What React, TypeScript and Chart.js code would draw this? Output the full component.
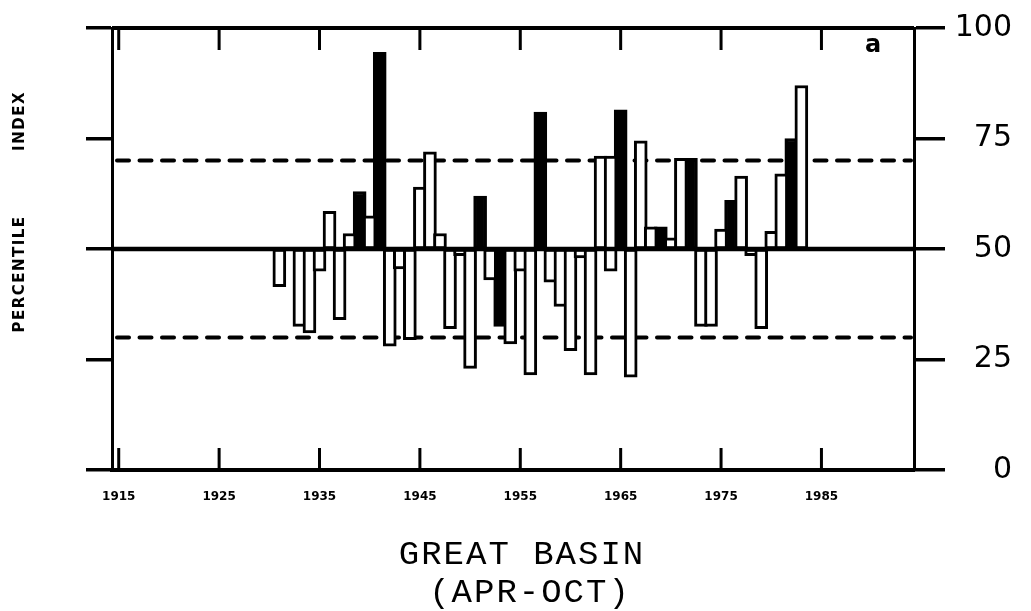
import React, { useEffect, useRef } from "react";
import { Chart, registerables } from "chart.js";

Chart.register(...registerables);

// Great Basin percentile index, April–October, one bar per year
const years = [
  1931, 1932, 1933, 1934, 1935, 1936, 1937, 1938, 1939, 1940,
  1941, 1942, 1943, 1944, 1945, 1946, 1947, 1948, 1949, 1950,
  1951, 1952, 1953, 1954, 1955, 1956, 1957, 1958, 1959, 1960,
  1961, 1962, 1963, 1964, 1965, 1966, 1967, 1968, 1969, 1970,
  1971, 1972, 1973, 1974, 1975, 1976, 1977, 1978, 1979, 1980,
  1981, 1982, 1983,
];
const percentile: (number | null)[] = [
  41.5, null, 32.5, 31, 45, 58.5, 34, 53.5, 63, 57.5,
  94.5, 28, 45.5, 29.5, 64, 72, 53.5, 32, 48.5, 23,
  62, 43, 32.5, 28.5, 45, 21.5, 81, 42.5, 37, 27,
  48, 21.5, 71, 71, 81.5, 21, 74.5, 55, 55, 52.5,
  70.5, 70.5, 32.5, 32.5, 54.5, 61, 66.5, 48.5, 32, 54,
  67, 75, 87,
];
// years drawn as solid black bars
const shadedYears = [1939, 1941, 1951, 1953, 1957, 1965, 1969, 1972, 1976, 1982];
// lower end of a bar when it does not start at the median
const barFloor: Record<number, number> = { 1964: 45 };

const decadeTicks = [1915, 1925, 1935, 1945, 1955, 1965, 1975, 1985];
const percentTicks = [0, 25, 50, 75, 100];
const bandLevels = [30, 70];
const medianLevel = 50;
const yearRange = [1914.33, 1994.22];

const titleLines = ["GREAT BASIN", "(APR-OCT)"];
const yTitleWords = ["PERCENTILE", "INDEX"];
const panelTag = "a";

function barsFor(solid: boolean) {
  const pts: { x: number; y: [number, number] }[] = [];
  years.forEach((yr, i) => {
    const v = percentile[i];
    if (v == null) return;
    if (shadedYears.includes(yr) !== solid) return;
    const lo = barFloor[yr] ?? medianLevel;
    pts.push({ x: yr, y: [lo, v] });
  });
  return pts;
}

const decorations = {
  id: "decorations",
  beforeDatasetsDraw(chart: any) {
    const { ctx, chartArea, scales } = chart;
    ctx.save();
    ctx.strokeStyle = "#000";
    ctx.lineWidth = 4;
    ctx.lineCap = "round";
    ctx.setLineDash([12, 10.5]);
    bandLevels.forEach((v) => {
      const y = scales.y.getPixelForValue(v);
      ctx.beginPath();
      ctx.moveTo(chartArea.left + 5, y);
      ctx.lineTo(chartArea.right - 3, y);
      ctx.stroke();
    });
    ctx.restore();
  },
  afterDatasetsDraw(chart: any) {
    const { ctx, chartArea, scales } = chart;
    ctx.save();
    ctx.strokeStyle = "#000";
    ctx.lineCap = "butt";
    // median line
    const ym = scales.y.getPixelForValue(medianLevel);
    ctx.lineWidth = 4.5;
    ctx.beginPath();
    ctx.moveTo(chartArea.left, ym);
    ctx.lineTo(chartArea.right, ym);
    ctx.stroke();
    // top frame line
    const yt = scales.y.getPixelForValue(100);
    ctx.lineWidth = 4;
    ctx.beginPath();
    ctx.moveTo(chartArea.left, yt);
    ctx.lineTo(chartArea.right, yt);
    ctx.stroke();
    // inward decade ticks on top and bottom edges
    ctx.lineWidth = 3;
    decadeTicks.forEach((yr) => {
      const x = scales.x.getPixelForValue(yr);
      ctx.beginPath();
      ctx.moveTo(x, chartArea.bottom);
      ctx.lineTo(x, chartArea.bottom - 22);
      ctx.moveTo(x, chartArea.top);
      ctx.lineTo(x, chartArea.top + 22);
      ctx.stroke();
    });
    ctx.restore();
  },
  afterDraw(chart: any) {
    const { ctx } = chart;
    ctx.save();
    ctx.fillStyle = "#000";
    // panel tag
    ctx.font = 'bold 24px "DejaVu Sans"';
    ctx.textAlign = "center";
    ctx.textBaseline = "middle";
    ctx.fillText(panelTag, 873, 46);
    // vertical axis title
    ctx.font = 'bold 15px "DejaVu Sans"';
    (ctx as any).letterSpacing = "1.5px";
    const wordCenters = [274, 121];
    yTitleWords.forEach((w, i) => {
      ctx.save();
      ctx.translate(20, wordCenters[i]);
      ctx.rotate(-Math.PI / 2);
      ctx.fillText(w, 0, 0);
      ctx.restore();
    });
    // title below the chart
    ctx.font = '34px "Liberation Mono"';
    (ctx as any).letterSpacing = "2px";
    ctx.fillText(titleLines[0], 522, 555);
    ctx.fillText(titleLines[1], 530, 593);
    (ctx as any).letterSpacing = "0px";
    ctx.restore();
  },
};

export default function App() {
  const canvasRef = useRef<HTMLCanvasElement | null>(null);

  useEffect(() => {
    const canvas = canvasRef.current;
    if (!canvas) return;
    const barStyle = {
      borderColor: "#000",
      borderWidth: 3,
      borderSkipped: false,
      grouped: false,
      barThickness: 13,
    };
    const chart = new Chart(canvas, {
      type: "bar",
      data: {
        datasets: [
          { label: "open", data: barsFor(false), backgroundColor: "#fff", ...barStyle } as any,
          { label: "shaded", data: barsFor(true), backgroundColor: "#000", ...barStyle } as any,
        ],
      },
      options: {
        responsive: false,
        animation: false,
        events: [],
        layout: { padding: { top: 24, right: 19, left: 0, bottom: 0 } },
        plugins: { legend: { display: false }, tooltip: { enabled: false } },
        scales: {
          x: {
            type: "linear",
            min: yearRange[0],
            max: yearRange[1],
            offset: false,
            afterBuildTicks: (s: any) => {
              s.ticks = decadeTicks.map((value) => ({ value }));
            },
            afterFit: (s: any) => {
              s.height = 141;
            },
            grid: { display: false, drawTicks: false },
            border: { display: true, color: "#000", width: 4 },
            ticks: {
              color: "#000",
              font: { family: "DejaVu Sans", weight: "bold", size: 12 },
              padding: 20,
              maxRotation: 0,
              autoSkip: false,
              callback: (v: any) => String(v),
            },
          },
          y: {
            position: "left",
            min: 0,
            max: 100,
            afterBuildTicks: (s: any) => {
              s.ticks = percentTicks.map((value) => ({ value }));
            },
            afterFit: (s: any) => {
              s.width = 112;
            },
            grid: {
              display: true,
              drawOnChartArea: false,
              drawTicks: true,
              tickLength: 26,
              color: "#000",
              lineWidth: 3.5,
            },
            border: { display: true, color: "#000", width: 3 },
            ticks: { display: false },
          },
          y2: {
            position: "right",
            min: 0,
            max: 100,
            afterBuildTicks: (s: any) => {
              s.ticks = percentTicks.map((value) => ({ value }));
            },
            afterFit: (s: any) => {
              s.width = 98;
            },
            grid: {
              display: true,
              drawOnChartArea: false,
              drawTicks: true,
              tickLength: 31,
              color: "#000",
              lineWidth: 3.5,
            },
            border: { display: true, color: "#000", width: 3 },
            ticks: {
              display: true,
              color: "#000",
              font: { family: "DejaVu Sans", size: 30 },
              padding: 10,
              crossAlign: "far",
            },
          },
        },
      } as any,
      plugins: [decorations],
    });
    return () => chart.destroy();
  }, []);

  return (
    <div style={{ position: "fixed", left: 0, top: 0, width: 1031, height: 611, background: "#fff" }}>
      <canvas ref={canvasRef} width={1031} height={611} style={{ display: "block" }} />
    </div>
  );
}
